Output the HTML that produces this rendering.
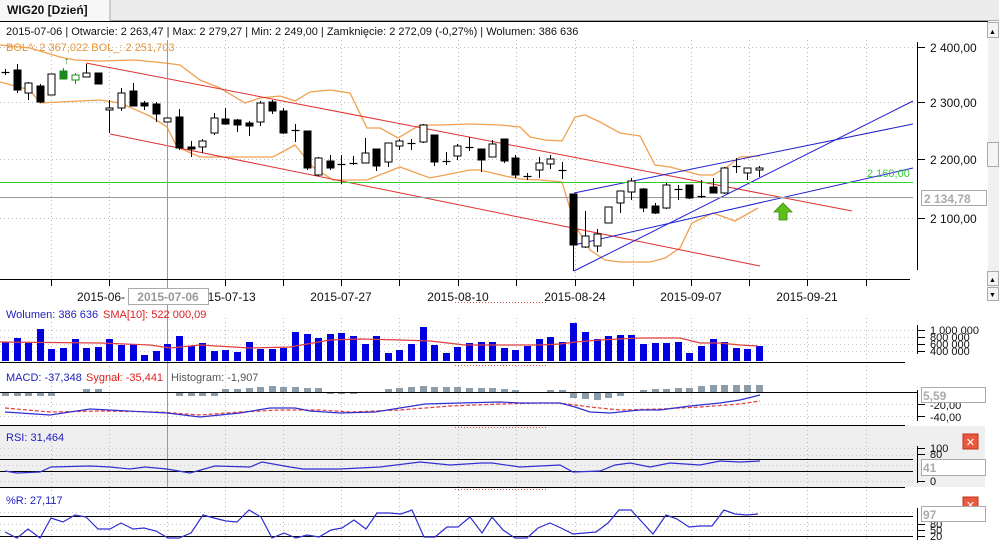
<!DOCTYPE html>
<html><head><meta charset="utf-8">
<style>
html,body{margin:0;padding:0;background:#fff;width:999px;height:540px;overflow:hidden}
svg{display:block;font-family:"Liberation Sans","DejaVu Sans",sans-serif}
</style></head><body>
<svg id="s" width="999" height="540" xmlns="http://www.w3.org/2000/svg"></svg>
<script>
var o=[];
function a(t){o.push(t);}
function pl(pts,c,w,extra){a('<polyline fill="none" stroke="'+c+'" stroke-width="'+(w||1)+'" '+(extra||'')+' points="'+pts.map(function(p){return p[0]+','+p[1]}).join(' ')+'"/>');}
function ln(x1,y1,x2,y2,c,w,extra){a('<line x1="'+x1+'" y1="'+y1+'" x2="'+x2+'" y2="'+y2+'" stroke="'+c+'" stroke-width="'+(w||1)+'" '+(extra||'')+'/>');}
function tx(x,y,t,c,sz,extra){a('<text x="'+x+'" y="'+y+'" fill="'+c+'" font-size="'+(sz||11)+'" '+(extra||'')+'>'+t+'</text>');}
function X(i){return 5+i*11.6;}
// tab bar
a('<rect x="0" y="0" width="999" height="21" fill="#ececec"/>');
a('<rect x="0" y="0" width="110" height="21" fill="#f7f7f7"/>');
ln(110,0,110,21,'#aaa');ln(110,20.5,999,20.5,'#aaa');
tx(7,14,'WIG20 [Dzień]','#111',12,'font-weight="bold"');
ln(0,21.5,988,21.5,'#000');
// RSI bg
a('<rect x="0" y="426" width="985" height="61" fill="#efefef"/>');
// vertical grid
var gx=[51,109,167,225,283,341,399,458,516,575,633,691,749,807,866];
gx.forEach(function(x){
 ln(x+.5,40,x+.5,278,'#bbb',1,'stroke-dasharray="1,3"');
 ln(x+.5,318,x+.5,540,'#bbb',1,'stroke-dasharray="1,3"');
 ln(x+.5,279,x+.5,286,'#000');
});
// horizontal grids price
[47,102,159,218].forEach(function(y){ln(0,y+.5,913,y+.5,'#bbb',1,'stroke-dasharray="1,3"');});
[330,337,344,351,404,416,448,455,465,481,512,524,530].forEach(function(y){ln(0,y+.5,913,y+.5,'#ccc',1,'stroke-dasharray="1,3"');});
// info
tx(6,35,'2015-07-06 | Otwarcie: 2 263,47 | Max: 2 279,27 | Min: 2 249,00 | Zamknięcie: 2 272,09 (-0,27%) | Wolumen: 386 636','#111',11);
tx(6,51,'BOL^: 2 367,022  BOL_: 2 251,703','#e8943a',11);
// bollinger
pl([[0,45],[30,48],[60,57],[75,60],[100,61],[135,60],[165,63],[180,65],[200,80],[220,88],[245,103],[260,98],[280,96],[295,101],[310,92],[330,90],[350,93],[367,128],[380,128],[398,138],[420,125],[440,125],[470,124],[500,125],[520,127],[530,137],[545,140],[562,141],[575,117],[585,115],[600,122],[620,133],[640,136],[655,165],[670,167],[700,175],[713,175],[727,167],[740,157],[760,156]],'#f0a050',1.3);
pl([[0,82],[30,90],[40,103],[100,100],[120,103],[150,116],[167,127],[177,147],[200,157],[273,157],[295,145],[313,167],[333,180],[367,180],[400,167],[430,178],[470,170],[480,170],[505,176],[520,179],[540,180],[562,182],[575,225],[590,250],[605,260],[620,262],[650,262],[665,258],[680,248],[692,223],[713,213],[735,221],[758,208]],'#f0a050',1.3);
// red channel
ln(86,63,852,211,'#e03030',1);ln(110,134,760,266,'#e03030',1);
// blue lines
ln(574,193,913,124,'#2020d0',1);ln(574,271,913,101,'#2020d0',1);ln(574,245,913,168,'#2020d0',1);
// green / gray horizontal
ln(0,182.5,913,182.5,'#33cc33',1);tx(867,177,'2 160,00','#33cc33',11);
ln(0,197.5,913,197.5,'#999',1);
// crosshair
ln(167.5,40,167.5,487,'#999',1);
// candles
var C=[['c',72,72,69,75],['b',70,90,64,93],['w',83,93,82,100],['b',86,102,84,103],['w',74,95,74,95],['g',71,79,68,79],['h',75,80,73,84],['w',73,77,64,77],['b',73,84,73,84],['w',108,110,100,133],['w',93,108,88,111],['b',91,106,83,106],['b',103,106,101,110],['b',104,114,102,122],['w',118,122,118,122],['b',117,148,109,150],['b',147,149,141,157],['w',141,147,139,153],['w',118,133,113,135],['b',119,124,108,125],['b',120,125,119,132],['b',123,126,121,136],['w',103,122,101,126],['b',102,111,100,114],['b',111,133,108,134],['c',130,130,124,142],['b',131,168,131,170],['w',158,175,157,176],['b',161,168,155,170],['c',164,164,155,184],['c',163,163,156,165],['w',153,163,138,163],['b',149,166,149,171],['w',143,162,143,167],['w',141,146,139,150],['c',143,143,139,150],['w',125,142,124,143],['b',135,162,135,166],['c',161,161,152,165],['w',146,156,144,160],['c',147,147,137,151],['b',149,160,149,172],['w',144,157,140,157],['b',139,161,139,163],['b',158,175,155,178],['c',176,176,173,180],['w',163,170,157,178],['w',159,164,155,169],['c',170,170,162,179],['b',194,245,194,271],['w',236,247,211,248],['w',234,246,229,252],['w',207,223,207,223],['w',191,203,191,213],['w',181,192,178,200],['b',189,208,188,212],['b',206,213,203,214],['w',185,208,183,209],['c',189,189,185,200],['b',185,198,185,199],['c',196,196,180,198],['b',187,193,178,193],['w',168,193,167,194],['c',166,166,158,173],['w',168,173,168,180],['w',168,170,166,177]];
C.forEach(function(c,i){var x=Math.round(X(i))+.5;var col=(c[0]=='g'||c[0]=='h')?'#1a8a1a':'#000';
 ln(x,c[3],x,c[4],col,1);
 if(c[0]=='c'){ln(x-4,c[1]+.5,x+4,c[1]+.5,col,1.2);}
 else{var f=(c[0]=='b')?'#000':(c[0]=='g'?'#1a8a1a':'#fff');a('<rect x="'+(x-3.5)+'" y="'+c[1]+'" width="7" height="'+Math.max(c[2]-c[1],2)+'" fill="'+f+'" stroke="'+col+'" stroke-width="1"/>');}
});
// green up arrows
tx(64,64,'↑','#1a8a1a',10);
a('<polygon points="783,203 792,212 787,212 787,220 779,220 779,212 774,212" fill="#5cbf1a" stroke="#3a8a10" stroke-width="0.8"/>');
// price axis
ln(917.5,42,917.5,270,'#000');
[[47,'2 400,00'],[102,'2 300,00'],[159,'2 200,00'],[218,'2 100,00']].forEach(function(p){ln(917,p[0]+.5,925,p[0]+.5,'#000');tx(930,p[0]+5,p[1],'#111',12);});
a('<rect x="921.5" y="190.5" width="65" height="15" fill="#fff" stroke="#aaa"/>');tx(924,203,'2 134,78','#aaa',12,'font-weight="bold"');
// date axis
ln(0,279.5,910,279.5,'#000');
[[225,'2015-07-13'],[341,'2015-07-27'],[458,'2015-08-10'],[575,'2015-08-24'],[691,'2015-09-07'],[807,'2015-09-21']].forEach(function(p){tx(p[0],301,p[1],'#111',12,'text-anchor="middle"');});
tx(77,301,'2015-06-','#111',12);
a('<rect x="128.5" y="288.5" width="80" height="16" fill="#fff" stroke="#aaa"/>');tx(168,301,'2015-07-06','#999',12,'text-anchor="middle" font-weight="bold"');
// red dotted markers
[302,365,427,489].forEach(function(y){ln(455,y+.5,548,y+.5,'#e05050',1,'stroke-dasharray="1,2"');});
// scrollbar
a('<rect x="988" y="22" width="11" height="278" fill="#f0f0f0"/>');
a('<rect x="987.5" y="22.5" width="11" height="15" fill="#f4f4f4" stroke="#aaa"/>');tx(989,34,'▲','#000',7);
a('<rect x="987.5" y="142.5" width="11" height="24" fill="#f4f4f4" stroke="#aaa"/>');
a('<rect x="987.5" y="271.5" width="11" height="14" fill="#f4f4f4" stroke="#aaa"/>');tx(989,282,'▲','#000',7);
a('<rect x="987.5" y="287.5" width="11" height="13" fill="#f4f4f4" stroke="#aaa"/>');tx(989,297,'▼','#000',7);
// volume panel
tx(6,318,'Wolumen: 386 636','#2020c0',11);tx(103,318,'SMA[10]: 522 000,09','#e02020',11);
var V=[342,338,343,329,349,348,339,348,347,339,345,344,355,351,344,336,346,343,351,350,352,342,349,349,348,332,334,338,334,333,336,344,336,353,350,344,327,345,353,347,343,342,342,348,350,346,339,337,342,323,332,339,336,335,335,344,343,343,342,353,346,339,342,348,349,346];
V.forEach(function(y,i){a('<rect x="'+(Math.round(X(i))-3)+'" y="'+y+'" width="7" height="'+(361-y)+'" fill="#0000e0"/>');});
pl([[0,342],[100,343],[150,345],[170,348],[200,345],[250,348],[290,347],[330,340],[360,339],[400,340],[430,341],[465,345],[500,345],[540,345],[560,344],[575,342],[600,340],[640,338],[680,338],[700,343],[720,343],[740,345],[758,346]],'#e04040',1.2);
ln(0,362.5,905,362.5,'#000');
ln(917.5,325,917.5,354,'#000');
[[330,'1 000 000'],[337,'800 000'],[344,'600 000'],[351,'400 000']].forEach(function(p){ln(917,p[0]+.5,925,p[0]+.5,'#000');tx(930,p[0]+4,p[1],'#111',11);});
// MACD
tx(6,381,'MACD: -37,348','#2020c0',11);tx(86,381,'Sygnał: -35,441','#e02020',11);tx(171,381,'Histogram: -1,907','#555',11);
var H=[-3,-3,-3,-3,-3,0,0,3,3,0,0,0,0,0,0,-3,-3,-3,-3,3,3,4,5,6,5,5,4,4,-1,-1,-1,0,0,3,4,5,6,5,5,5,4,4,4,3,2,0,0,2,2,-5,-6,-7,-5,-3,0,2,3,3,4,4,6,7,7,7,7,7];
H.forEach(function(h,i){if(!h)return;var x=Math.round(X(i))-3;if(h>0)a('<rect x="'+x+'" y="'+(392-h)+'" width="7" height="'+h+'" fill="#8c9ca8"/>');else a('<rect x="'+x+'" y="393" width="7" height="'+(-h)+'" fill="#8c9ca8"/>');});
ln(0,392.5,917,392.5,'#000');
pl([[5,408],[50,412],[100,411],[160,412],[200,415],[240,412],[280,410],[320,410],[350,412],[400,410],[450,406],[500,404],[540,403],[560,403],[590,407],[620,410],[660,409],[700,407],[740,404],[760,401]],'#e04040',1.2,'stroke-dasharray="4,2"');
pl([[5,412],[50,415],[90,409],[167,413],[200,417],[240,413],[270,408],[295,408],[310,411],[340,413],[375,412],[400,408],[425,404],[460,403],[500,402],[520,403],[560,403],[575,407],[590,412],[610,413],[640,410],[660,410],[690,406],[720,403],[740,400],[760,395]],'#3030d0',1.2);
ln(0,425.5,905,425.5,'#000');
ln(917.5,390,917.5,421,'#000');
[[404,'-20,00'],[416,'-40,00']].forEach(function(p){ln(917,p[0]+.5,925,p[0]+.5,'#000');tx(930,p[0]+5,p[1],'#111',11);});
a('<rect x="921.5" y="387.5" width="64" height="15" fill="#fff" stroke="#aaa"/>');tx(923,400,'5,59','#aaa',12,'font-weight="bold"');
// RSI
tx(6,441,'RSI: 31,464','#2020c0',11);
ln(0,459.5,913,459.5,'#000');ln(0,471.5,913,471.5,'#000');
pl([[5,471],[17,473],[40,472],[51,467],[90,466],[110,467],[130,469],[145,467],[167,469],[190,473],[215,466],[250,467],[262,462],[290,467],[303,469],[340,469],[380,467],[420,462],[450,465],[482,463],[492,463],[520,467],[560,465],[573,472],[600,471],[615,465],[630,463],[650,467],[670,463],[700,465],[720,461],[740,462],[760,461]],'#3030d0',1.2);
ln(0,487.5,905,487.5,'#000');
ln(917.5,446,917.5,483,'#000');
[[448,'100'],[454,'80'],[481,'0']].forEach(function(p){ln(917,p[0]+.5,925,p[0]+.5,'#000');tx(930,p[0]+4,p[1],'#111',11);});
a('<rect x="921.5" y="459.5" width="64" height="16" fill="#fff" stroke="#aaa"/>');tx(923,472,'41','#aaa',12,'font-weight="bold"');
function xb(y){a('<rect x="963" y="'+y+'" width="15" height="15" fill="#e85a40" stroke="#c03020"/>');tx(970.5,y+12,'✕','#fff',11,'text-anchor="middle" font-weight="bold"');}
xb(434);xb(497);
// %R
tx(6,504,'%R: 27,117','#2020c0',11);
ln(0,516.5,913,516.5,'#000');ln(0,536.5,913,536.5,'#000');
pl([[5,532],[17,538],[28,529],[40,538],[51,518],[63,522],[75,515],[86,517],[98,529],[110,529],[121,523],[133,529],[144,528],[156,531],[168,538],[179,538],[191,533],[203,515],[214,518],[226,521],[237,522],[249,510],[261,517],[272,538],[284,533],[296,538],[307,535],[319,537],[331,530],[342,528],[354,520],[366,529],[377,513],[389,513],[401,514],[412,510],[424,537],[435,537],[447,527],[458,527],[470,517],[482,533],[492,517],[503,530],[515,538],[527,538],[538,528],[550,523],[561,528],[573,534],[596,532],[608,523],[619,510],[631,510],[642,522],[653,534],[666,515],[677,519],[689,527],[700,526],[712,526],[724,510],[735,514],[747,515],[758,514]],'#3030d0',1.2);
ln(917.5,508,917.5,540,'#000');
[[524,'80'],[530,'50'],[536,'20']].forEach(function(p){ln(917,p[0]+.5,925,p[0]+.5,'#000');tx(930,p[0]+4,p[1],'#111',11);});
a('<rect x="921.5" y="506.5" width="64" height="15" fill="#fff" stroke="#aaa"/>');tx(923,519,'97','#aaa',12,'font-weight="bold"');
document.getElementById('s').innerHTML=o.join('');
</script>
</body></html>
